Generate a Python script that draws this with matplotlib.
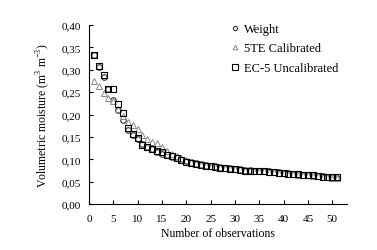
import matplotlib
matplotlib.use('Agg')
import matplotlib.pyplot as plt
from matplotlib.ticker import FuncFormatter, MultipleLocator

plt.rcParams['font.family'] = 'Liberation Serif'
plt.rcParams['mathtext.fontset'] = 'custom'
plt.rcParams['mathtext.rm'] = 'Liberation Serif'

obs = list(range(1, 52))

weight = [0.333, 0.306, 0.284, 0.258, 0.232, 0.210, 0.187, 0.165, 0.155, 0.145,
          0.135, 0.128, 0.122, 0.117, 0.113, 0.109, 0.105, 0.102, 0.099, 0.096,
          0.093, 0.091, 0.089, 0.087, 0.085, 0.084, 0.082, 0.081, 0.080, 0.079,
          0.078, 0.077, 0.076, 0.075, 0.074, 0.074, 0.073, 0.072, 0.071, 0.070,
          0.069, 0.068, 0.067, 0.066, 0.065, 0.064, 0.063, 0.062, 0.061, 0.060, 0.059]

te5_cal = [0.276, 0.265, 0.249, 0.236, 0.231, 0.213, 0.196, 0.184, 0.176, 0.167,
           0.154, 0.145, 0.139, 0.136, 0.127, 0.118, 0.111, 0.107, 0.102, 0.098,
           0.095, 0.092, 0.090, 0.088, 0.086, 0.084, 0.083, 0.081, 0.080, 0.079,
           0.078, 0.077, 0.076, 0.075, 0.074, 0.073, 0.072, 0.071, 0.070, 0.069,
           0.068, 0.067, 0.066, 0.065, 0.064, 0.063, 0.062, 0.061, 0.060, 0.059, 0.058]

ec5_uncal = [0.333, 0.309, 0.289, 0.258, 0.258, 0.224, 0.204, 0.170, 0.156, 0.147,
             0.133, 0.128, 0.123, 0.118, 0.116, 0.110, 0.107, 0.102, 0.099, 0.095,
             0.092, 0.090, 0.088, 0.086, 0.084, 0.083, 0.081, 0.080, 0.079, 0.078,
             0.076, 0.075, 0.075, 0.074, 0.073, 0.075, 0.072, 0.071, 0.070, 0.069,
             0.068, 0.067, 0.067, 0.066, 0.066, 0.064, 0.063, 0.061, 0.060, 0.060, 0.060]

fig = plt.figure(figsize=(3.77, 2.51), dpi=100)
ax = fig.add_axes([0.236, 0.183, 0.684, 0.713])

ax.plot(obs, weight, 'o', ms=4, mfc='white', mec='#444444', mew=0.9, label='Weight')
ax.plot(obs, te5_cal, '^', ms=4.5, mfc='white', mec='#888888', mew=0.7, label='5TE Calibrated')
ax.plot(obs, ec5_uncal, 's', ms=5, mfc='none', mec='black', mew=0.8, label='EC-5 Uncalibrated')

ax.set_xlim(0, 53)
ax.set_ylim(0, 0.40)
ax.xaxis.set_major_locator(MultipleLocator(5))
ax.yaxis.set_major_locator(MultipleLocator(0.05))
ax.yaxis.set_major_formatter(FuncFormatter(lambda v, p: f'{v:.2f}'.replace('.', ',')))

for s in ['top', 'right']:
    ax.spines[s].set_visible(False)
ax.tick_params(direction='in', labelsize=8, length=3)
ax.tick_params(axis='x', pad=7)
ax.tick_params(axis='y', pad=6)

ax.set_xlabel('Number of observations', fontsize=8.5, labelpad=3)
ax.set_ylabel('Volumetric moisture (m$^{3}$ m$^{-3}$)', fontsize=8.5, labelpad=7)

ax.legend(loc='upper right', frameon=False, fontsize=9, handletextpad=0.1,
          handlelength=1.2, borderaxespad=0.0, labelspacing=0.6,
          markerscale=0.75, bbox_to_anchor=(0.985, 1.04))

fig.savefig('out.png', dpi=100)
